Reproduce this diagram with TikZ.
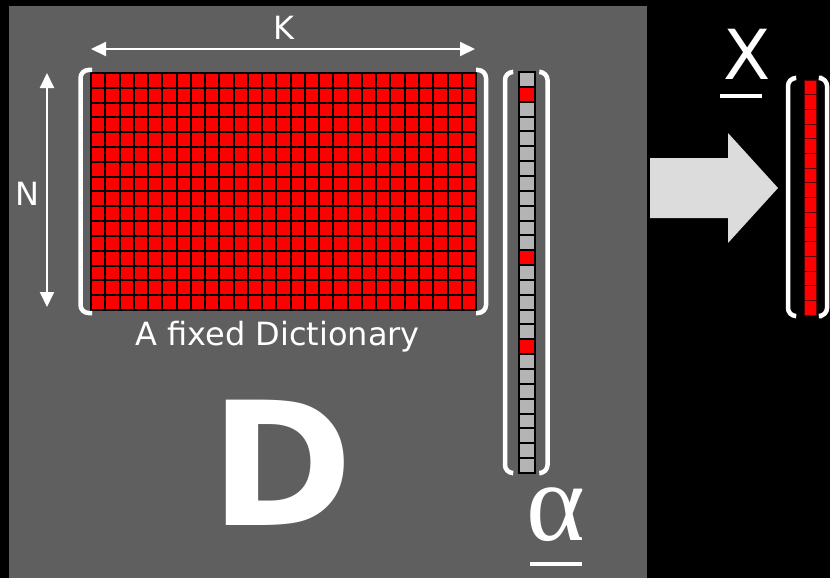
\documentclass[tikz,border=0pt]{standalone}
\usepackage{fontspec}
\setmainfont{DejaVu Sans}
\newfontfamily\greekfont{Liberation Serif}
\usepackage{tikz}
\usetikzlibrary{arrows.meta}
\definecolor{panelgray}{HTML}{5F5F5F}
\definecolor{cellgray}{HTML}{B4B4B4}
\definecolor{arrowgray}{HTML}{DCDCDC}
\definecolor{atomred}{HTML}{FF0000}

\begin{document}
\begin{tikzpicture}[x=1pt, y=-1pt,
    lettering/.style={text=white, inner sep=0pt, anchor=base, font=\fontsize{32}{32}\selectfont},
    atom/.style={draw=black, line width=2pt, fill=#1},
    entry/.style={draw=red!35!black, line width=0.8pt, fill=atomred},
    bracket/.style={draw=white, line width=4.5pt, rounded corners=8pt},
    dimarrow/.style={{Triangle[length=15pt, width=14pt]}-{Triangle[length=15pt, width=14pt]}, white, line width=2pt},
    uline/.style={white, line width=4pt}
]
\useasboundingbox (0,0) rectangle (830,578);
\fill[black] (0,0) rectangle (830,578);

% Gray panel holding the dictionary and alpha
\fill[panelgray] (9,6) rectangle (647,578);

% Dictionary D: 16 x 27 atoms
\foreach \i in {0,...,26}
  \foreach \j in {0,...,15}
    \draw[atom=atomred] ({91+\i*14.26},{73+\j*14.81}) rectangle +(14.26,14.81);
\draw[bracket] (92,70) -| (80.5,313) -- (92,313);
\draw[bracket] (476,70) -| (486,313) -- (476,313);

% Sizes K and N
\coordinate (kleft) at (91,49);
\coordinate (kright) at (475,49);
\draw[dimarrow] (kleft) -- (kright);
\node[lettering] (klabel) at (284,40) {K};
\coordinate (ntop) at (47,73);
\coordinate (nbottom) at (47,307);
\draw[dimarrow] (ntop) -- (nbottom);
\node[lettering] (nlabel) at (27,205) {N};

\node[lettering] (caption) at (277.5,345) {A fixed Dictionary};
\node[lettering, font=\fontsize{172}{172}\selectfont\bfseries] (dlabel) at (281.5,525) {D};

% Sparse vector alpha
\foreach \j in {0,...,26}
  \draw[atom=cellgray] (519,{72+\j*14.85}) rectangle +(16,14.85);
\foreach \j in {1,12,18}
  \draw[atom=atomred] (519,{72+\j*14.85}) rectangle +(16,14.85);
\draw[bracket] (512,72) -| (505,473) -- (512,473);
\draw[bracket] (541,72) -| (547.5,473) -- (541,473);
\node[lettering, font=\fontsize{112}{112}\selectfont\greekfont] (alphalabel) at (556,540) {α};
\draw[uline] (530,564) -- (582,564);

% Big arrow
\fill[arrowgray] (650,158) -- (728,158) -- (728,133) -- (778,188)
  -- (728,243) -- (728,218) -- (650,218) -- cycle;

% Signal x
\foreach \j in {0,...,15}
  \draw[entry] (804,{80+\j*14.69}) rectangle +(12,14.69);
\draw[bracket] (795,78) -| (788,316) -- (795,316);
\draw[bracket] (822,78) -| (827,316) -- (822,316);
\node[lettering, font=\fontsize{69}{69}\selectfont] (xlabel) at (747,80) {X};
\draw[uline] (720,96) -- (762,96);
\end{tikzpicture}
\end{document}
